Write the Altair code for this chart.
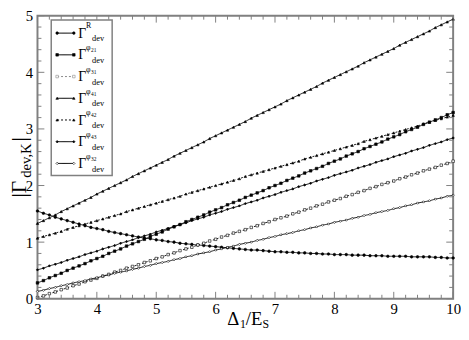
import altair as alt
import pandas as pd

# ---------------- data ----------------
x_vals = [3.0, 3.1, 3.2, 3.3, 3.4, 3.5, 3.6, 3.7, 3.8, 3.9,
          4.0, 4.1, 4.2, 4.3, 4.4, 4.5, 4.6, 4.7, 4.8, 4.9,
          5.0, 5.1, 5.2, 5.3, 5.4, 5.5, 5.6, 5.7, 5.8, 5.9,
          6.0, 6.1, 6.2, 6.3, 6.4, 6.5, 6.6, 6.7, 6.8, 6.9,
          7.0, 7.1, 7.2, 7.3, 7.4, 7.5, 7.6, 7.7, 7.8, 7.9,
          8.0, 8.1, 8.2, 8.3, 8.4, 8.5, 8.6, 8.7, 8.8, 8.9,
          9.0, 9.1, 9.2, 9.3, 9.4, 9.5, 9.6, 9.7, 9.8, 9.9, 10.0]

gamma_R = [1.55, 1.51, 1.48, 1.44, 1.41, 1.38, 1.35, 1.32, 1.29, 1.26,
           1.24, 1.22, 1.19, 1.17, 1.15, 1.13, 1.11, 1.09, 1.07, 1.06,
           1.04, 1.03, 1.01, 1.00, 0.98, 0.97, 0.96, 0.95, 0.94, 0.93,
           0.92, 0.91, 0.90, 0.89, 0.88, 0.87, 0.86, 0.86, 0.85, 0.84,
           0.83, 0.83, 0.82, 0.82, 0.81, 0.81, 0.80, 0.80, 0.79, 0.79,
           0.78, 0.78, 0.78, 0.77, 0.77, 0.77, 0.76, 0.76, 0.76, 0.75,
           0.75, 0.75, 0.75, 0.74, 0.74, 0.74, 0.74, 0.73, 0.73, 0.72, 0.72]

gamma_21 = [0.28, 0.32, 0.37, 0.41, 0.45, 0.50, 0.54, 0.58, 0.62, 0.67,
            0.71, 0.75, 0.80, 0.84, 0.88, 0.93, 0.97, 1.01, 1.05, 1.10,
            1.14, 1.18, 1.23, 1.27, 1.31, 1.36, 1.40, 1.44, 1.48, 1.53,
            1.57, 1.61, 1.66, 1.70, 1.74, 1.79, 1.83, 1.87, 1.91, 1.96,
            2.00, 2.04, 2.09, 2.13, 2.17, 2.22, 2.26, 2.30, 2.34, 2.39,
            2.43, 2.47, 2.52, 2.56, 2.60, 2.65, 2.69, 2.73, 2.77, 2.82,
            2.86, 2.90, 2.95, 2.99, 3.03, 3.08, 3.12, 3.16, 3.20, 3.25, 3.29]

gamma_31 = [0.02, 0.05, 0.09, 0.12, 0.16, 0.19, 0.23, 0.26, 0.30, 0.33,
            0.36, 0.40, 0.43, 0.47, 0.50, 0.54, 0.57, 0.60, 0.64, 0.67,
            0.71, 0.74, 0.78, 0.81, 0.85, 0.88, 0.91, 0.95, 0.98, 1.02,
            1.05, 1.09, 1.12, 1.16, 1.19, 1.22, 1.26, 1.29, 1.33, 1.36,
            1.40, 1.43, 1.46, 1.50, 1.53, 1.57, 1.60, 1.64, 1.67, 1.71,
            1.74, 1.77, 1.81, 1.84, 1.88, 1.91, 1.95, 1.98, 2.02, 2.05,
            2.08, 2.12, 2.15, 2.19, 2.22, 2.26, 2.29, 2.32, 2.36, 2.39, 2.43]

gamma_41 = [1.33, 1.38, 1.43, 1.48, 1.54, 1.59, 1.64, 1.69, 1.74, 1.79,
            1.85, 1.90, 1.95, 2.00, 2.05, 2.10, 2.16, 2.21, 2.26, 2.31,
            2.36, 2.41, 2.46, 2.52, 2.57, 2.62, 2.67, 2.72, 2.77, 2.83,
            2.88, 2.93, 2.98, 3.03, 3.08, 3.13, 3.19, 3.24, 3.29, 3.34,
            3.39, 3.44, 3.50, 3.55, 3.60, 3.65, 3.70, 3.75, 3.81, 3.86,
            3.91, 3.96, 4.01, 4.06, 4.11, 4.17, 4.22, 4.27, 4.32, 4.37,
            4.42, 4.48, 4.53, 4.58, 4.63, 4.68, 4.73, 4.79, 4.84, 4.89, 4.94]

gamma_42 = [1.07, 1.10, 1.13, 1.16, 1.19, 1.23, 1.26, 1.29, 1.32, 1.35,
            1.38, 1.41, 1.44, 1.47, 1.50, 1.54, 1.57, 1.60, 1.63, 1.66,
            1.69, 1.72, 1.75, 1.78, 1.81, 1.85, 1.88, 1.91, 1.94, 1.97,
            2.00, 2.03, 2.06, 2.09, 2.12, 2.16, 2.19, 2.22, 2.25, 2.28,
            2.31, 2.34, 2.37, 2.40, 2.43, 2.47, 2.50, 2.53, 2.56, 2.59,
            2.62, 2.65, 2.68, 2.71, 2.74, 2.78, 2.81, 2.84, 2.87, 2.90,
            2.93, 2.96, 2.99, 3.02, 3.05, 3.09, 3.12, 3.15, 3.18, 3.21, 3.24]

gamma_43 = [0.51, 0.54, 0.58, 0.61, 0.64, 0.68, 0.71, 0.74, 0.78, 0.81,
            0.84, 0.88, 0.91, 0.94, 0.98, 1.01, 1.04, 1.08, 1.11, 1.14,
            1.18, 1.21, 1.24, 1.28, 1.31, 1.34, 1.38, 1.41, 1.44, 1.48,
            1.51, 1.54, 1.58, 1.61, 1.64, 1.68, 1.71, 1.74, 1.78, 1.81,
            1.84, 1.88, 1.91, 1.94, 1.98, 2.01, 2.04, 2.08, 2.11, 2.14,
            2.18, 2.21, 2.24, 2.27, 2.31, 2.34, 2.37, 2.41, 2.44, 2.47,
            2.51, 2.54, 2.57, 2.61, 2.64, 2.67, 2.71, 2.74, 2.77, 2.81, 2.84]

gamma_32 = [0.13, 0.15, 0.18, 0.20, 0.23, 0.25, 0.28, 0.30, 0.32, 0.35,
            0.37, 0.40, 0.42, 0.45, 0.47, 0.49, 0.52, 0.54, 0.57, 0.59,
            0.62, 0.64, 0.66, 0.69, 0.71, 0.74, 0.76, 0.79, 0.81, 0.83,
            0.86, 0.88, 0.91, 0.93, 0.96, 0.98, 1.00, 1.03, 1.05, 1.08,
            1.10, 1.13, 1.15, 1.17, 1.20, 1.22, 1.25, 1.27, 1.30, 1.32,
            1.35, 1.37, 1.39, 1.42, 1.44, 1.47, 1.49, 1.52, 1.54, 1.56,
            1.59, 1.61, 1.64, 1.66, 1.69, 1.71, 1.73, 1.76, 1.78, 1.81, 1.83]

series_names = ["R", "φ21", "φ31", "φ41", "φ42", "φ43", "φ32"]
sup_main = ["R", "φ", "φ", "φ", "φ", "φ", "φ"]
sup_sub = ["", "21", "31", "41", "42", "43", "32"]
series_values = [gamma_R, gamma_21, gamma_31, gamma_41, gamma_42, gamma_43, gamma_32]

x_major = [3, 4, 5, 6, 7, 8, 9, 10]
x_minor = [3.2, 3.4, 3.6, 3.8, 4.2, 4.4, 4.6, 4.8, 5.2, 5.4, 5.6, 5.8,
           6.2, 6.4, 6.6, 6.8, 7.2, 7.4, 7.6, 7.8, 8.2, 8.4, 8.6, 8.8,
           9.2, 9.4, 9.6, 9.8]
y_major = [0, 1, 2, 3, 4, 5]
y_minor = [0.2, 0.4, 0.6, 0.8, 1.2, 1.4, 1.6, 1.8, 2.2, 2.4, 2.6, 2.8,
           3.2, 3.4, 3.6, 3.8, 4.2, 4.4, 4.6, 4.8]

# ---------------- styles ----------------
W, H = 423, 288
SERIF = "Liberation Serif"
AX = "#808080"
shape_range = ["circle", "square", "square", "triangle-up", "triangle-up", "diamond", "diamond"]
fill_range = ["black", "black", "white", "black", "black", "black", "white"]
leg_fill_range = ["black", "black", "#999999", "black", "black", "black", "white"]
leg_stroke_range = ["black", "black", "#888888", "black", "black", "black", "black"]
dash_range = [[1, 0], [1, 0], [2, 2], [1, 0], [2, 2], [1, 0], [1, 0]]
size_range = [7, 6, 7, 8, 8, 10, 12]

df = pd.concat(
    [pd.DataFrame({"series": n, "x": x_vals, "y": v}) for n, v in zip(series_names, series_values)],
    ignore_index=True,
)

xscale = alt.Scale(domain=[3, 10], nice=False, zero=False)
yscale = alt.Scale(domain=[0, 5], nice=False, zero=False)
shape_enc = alt.Shape("series:N", scale=alt.Scale(domain=series_names, range=shape_range), legend=None)
fill_enc = alt.Fill("series:N", scale=alt.Scale(domain=series_names, range=fill_range), legend=None)
dash_enc = alt.StrokeDash("series:N", scale=alt.Scale(domain=series_names, range=dash_range), legend=None)
size_enc = alt.Size("series:N", scale=alt.Scale(domain=series_names, range=size_range), legend=None)

x_axis = alt.Axis(values=x_major, ticks=False, tickSize=0, domain=False, grid=False,
                  labelFont=SERIF, labelFontSize=15, labelColor="black", labelPadding=3,
                  labelFlush=False, title=None)
y_axis = alt.Axis(values=y_major, ticks=False, tickSize=0, domain=False, grid=False,
                  labelFont=SERIF, labelFontSize=15, labelColor="black", labelPadding=5,
                  labelFlush=False, title=None)
X = alt.X("x:Q", scale=xscale, axis=x_axis)
Y = alt.Y("y:Q", scale=yscale, axis=y_axis)

base = alt.Chart(df)
lines = base.mark_line(color="black", strokeWidth=0.9).encode(
    x=X, y=Y, detail="series:N", strokeDash=dash_enc,
)
points = base.mark_point(filled=True, stroke="black", strokeWidth=0.6, opacity=1).encode(
    x=X, y=Y, shape=shape_enc, fill=fill_enc, size=size_enc,
)

# ---------------- inward ticks ----------------
def xticks(vals, length):
    d = alt.Chart(pd.DataFrame({"x": vals}))
    b = d.mark_rule(color=AX, strokeWidth=1).encode(x=X, y=alt.value(H), y2=alt.value(H - length))
    t = d.mark_rule(color=AX, strokeWidth=1).encode(x=X, y=alt.value(0), y2=alt.value(length))
    return [b, t]

def yticks(vals, length):
    d = alt.Chart(pd.DataFrame({"y": vals}))
    l = d.mark_rule(color=AX, strokeWidth=1).encode(y=Y, x=alt.value(0), x2=alt.value(length))
    r = d.mark_rule(color=AX, strokeWidth=1).encode(y=Y, x=alt.value(W), x2=alt.value(W - length))
    return [l, r]

tick_layers = xticks(x_major, 7) + xticks(x_minor, 4) + yticks(y_major, 7) + yticks(y_minor, 4)

# ---------------- legend ----------------
LEG_TOP = 17.7
LEG_STEP = 22.1
legend_df = pd.DataFrame({
    "series": series_names,
    "sup": sup_main,
    "sub": sup_sub,
    "ly": [LEG_TOP + LEG_STEP * i for i in range(len(series_names))],
})
one = pd.DataFrame({"a": [0]})
leg_box = alt.Chart(one).mark_rect(fill="white", stroke=AX, strokeWidth=1.5).encode(
    x=alt.value(14), x2=alt.value(76), y=alt.value(4.3), y2=alt.value(162.7))
ly = alt.Y("ly:Q", scale=None)
leg_fill = alt.Fill("series:N", scale=alt.Scale(domain=series_names, range=leg_fill_range), legend=None)
leg_stroke = alt.Stroke("series:N", scale=alt.Scale(domain=series_names, range=leg_stroke_range), legend=None)
leg = alt.Chart(legend_df)
leg_line = leg.mark_rule(strokeWidth=1).encode(
    x=alt.value(20), x2=alt.value(37), y=ly, strokeDash=dash_enc, stroke=leg_stroke)
leg_pt1 = leg.mark_point(filled=True, strokeWidth=0.6, opacity=1).encode(
    x=alt.value(20), y=ly, shape=shape_enc, fill=leg_fill, stroke=leg_stroke, size=size_enc)
leg_pt2 = leg.mark_point(filled=True, strokeWidth=0.6, opacity=1).encode(
    x=alt.value(37), y=ly, shape=shape_enc, fill=leg_fill, stroke=leg_stroke, size=size_enc)
leg_gamma = leg.mark_text(font=SERIF, fontSize=14, align="left", baseline="alphabetic",
                          dy=4.6, color="black").encode(x=alt.value(41.5), y=ly, text=alt.value("Γ"))
leg_sup = leg.mark_text(font=SERIF, fontSize=8, align="left", baseline="alphabetic",
                        dy=-4.7, color="black").encode(x=alt.value(49.5), y=ly, text="sup:N")
leg_sub = leg.mark_text(font=SERIF, fontSize=5.5, align="left", baseline="alphabetic",
                        dy=-2.7, color="black").encode(x=alt.value(54.5), y=ly, text="sub:N")
leg_dev = leg.mark_text(font=SERIF, fontSize=8.5, align="left", baseline="alphabetic",
                        dy=8.3, color="black").encode(x=alt.value(55.5), y=ly, text=alt.value("dev"))

# ---------------- axis titles ----------------
def label(txt, x, y, size, angle=0):
    return alt.Chart(one).mark_text(text=txt, font=SERIF, fontSize=size, align="left",
                                    baseline="alphabetic", angle=angle, color="black").encode(
        x=alt.value(x), y=alt.value(y))

xtitle = [
    label("Δ", 193, 315, 19),
    label("1", 206, 318, 12),
    label("/E", 212, 315, 19),
    label("S", 229, 318, 12),
]
ytitle = [
    label("|Γ", -12, 185, 22, 270),
    label("dev,K", -7, 165, 15, 270),
    label("|", -12, 128, 22, 270),
]

chart = alt.layer(
    lines, points, *tick_layers, leg_box, leg_line, leg_pt1, leg_pt2,
    leg_gamma, leg_sup, leg_sub, leg_dev, *xtitle, *ytitle,
).properties(
    width=W, height=H,
    autosize=alt.AutoSizeParams(type="none"),
    padding={"left": 30, "top": 5, "right": 8, "bottom": 31},
).configure_view(stroke=AX, strokeWidth=2)

chart.save("out.html", embed_options={"renderer": "svg", "actions": False})
